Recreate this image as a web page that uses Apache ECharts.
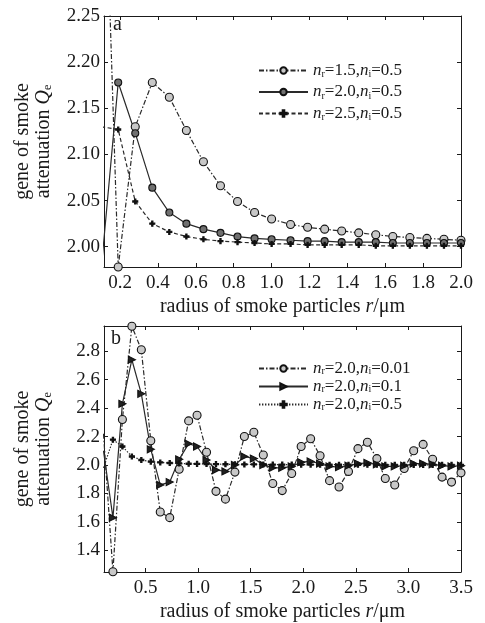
<!DOCTYPE html>
<html>
<head>
<meta charset="utf-8">
<script src="https://cdn.jsdelivr.net/npm/echarts@6/dist/echarts.min.js"></script>
<style>
html,body{margin:0;padding:0;background:#fff;}
#c{width:485px;height:623px;}
</style>
</head>
<body>
<div id="c"></div>
<script>
// ---- data: panel a ----
const radiusA = [0.10,0.19,0.28,0.37,0.46,0.55,0.64,0.73,0.82,0.91,1.00,1.10,1.19,1.28,1.37,1.46,1.55,1.64,1.73,1.82,1.91,2.00];
const qA15 = [2.55,1.978,2.13,2.178,2.162,2.126,2.092,2.066,2.049,2.037,2.030,2.024,2.021,2.019,2.017,2.015,2.013,2.011,2.010,2.009,2.008,2.007];
const qA20 = [1.975,2.178,2.123,2.064,2.037,2.025,2.019,2.015,2.011,2.009,2.008,2.007,2.006,2.006,2.005,2.005,2.005,2.004,2.004,2.004,2.004,2.004];
const qA25 = [2.13,2.127,2.049,2.025,2.016,2.011,2.008,2.006,2.005,2.004,2.003,2.003,2.002,2.002,2.002,2.002,2.001,2.001,2.001,2.001,2.001,2.001];
const ticksAX = [0.2,0.4,0.6,0.8,1.0,1.2,1.4,1.6,1.8,2.0];
const ticksAY = [2.00,2.05,2.10,2.15,2.20,2.25];

// ---- data: panel b ----
const radiusB = [0.10,0.19,0.28,0.37,0.46,0.55,0.64,0.73,0.82,0.91,0.99,1.08,1.17,1.26,1.35,1.44,1.53,1.62,1.71,1.80,1.89,1.98,2.07,2.16,2.25,2.34,2.43,2.52,2.61,2.70,2.78,2.87,2.96,3.05,3.14,3.23,3.32,3.41,3.50];
const qB001 = [2.22,1.25,2.32,2.975,2.81,2.17,1.67,1.63,1.97,2.31,2.35,2.09,1.815,1.76,1.95,2.20,2.23,2.07,1.87,1.82,1.94,2.13,2.185,2.065,1.89,1.845,1.955,2.115,2.16,2.045,1.905,1.86,1.975,2.10,2.145,2.04,1.915,1.88,1.945];
const qB01 = [2.10,1.63,2.43,2.74,2.50,2.11,1.86,1.88,2.04,2.15,2.13,2.035,1.965,1.955,2.00,2.06,2.045,2.00,1.98,1.98,1.99,2.02,2.025,2.01,1.99,1.985,1.995,2.01,2.015,2.005,1.99,1.99,1.995,2.01,2.01,2.005,1.995,1.99,1.995];
const qB05 = [1.98,2.178,2.13,2.06,2.035,2.024,2.018,2.014,2.011,2.009,2.008,2.007,2.006,2.005,2.005,2.004,2.004,2.004,2.003,2.003,2.003,2.003,2.003,2.002,2.002,2.002,2.002,2.002,2.002,2.002,2.001,2.001,2.001,2.001,2.001,2.001,2.001,2.001,2.001];
const ticksBX = [0.5,1.0,1.5,2.0,2.5,3.0,3.5];
const ticksBY = [1.4,1.6,1.8,2.0,2.2,2.4,2.6,2.8];

const namesA = ['a:nr=1.5,ni=0.5','a:nr=2.0,ni=0.5','a:nr=2.5,ni=0.5'];
const namesB = ['b:nr=2.0,ni=0.01','b:nr=2.0,ni=0.1','b:nr=2.0,ni=0.5'];

const FONT = 'Liberation Serif';
const INK = '#1a1a1a';
const PLUS = 'path://M3,0H5V3H8V5H5V8H3V5H0V3H3Z';

function pairs(xs, ys){ return xs.map((x,i)=>[x, ys[i]]); }

function legendFmt(name){
  const m = name.match(/nr=([\d.]+),ni=([\d.]+)/);
  return '{n|n}{s|r}{t|=' + m[1] + ',}{n|n}{s|i}{t|=' + m[2] + '}';
}
function legendRich(lh){
  return {
    n:{fontFamily:FONT,fontStyle:'italic',fontSize:17,color:INK,lineHeight:lh},
    s:{fontFamily:FONT,fontSize:10,color:INK,lineHeight:8,verticalAlign:'bottom'},
    t:{fontFamily:FONT,fontSize:17,color:INK,lineHeight:lh}
  };
}

function xAxes(gi, min, max, ticks, dec){
  const base = {
    type:'value', gridIndex:gi, min:min, max:max,
    axisLine:{show:true,lineStyle:{color:INK,width:1}},
    splitLine:{show:false},
    axisTick:{show:true,inside:true,length:4,customValues:ticks,lineStyle:{color:INK}}
  };
  return [
    Object.assign({}, base, {
      position:'bottom',
      axisLabel:{show:true,customValues:ticks,margin:7,fontFamily:FONT,fontSize:19,color:INK,
        formatter:v=>v.toFixed(dec)},
      name:'radius of smoke particles {i|r}/μm', nameLocation:'middle', nameGap:30,
      nameTextStyle:{fontFamily:FONT,fontSize:20,color:INK,
        rich:{i:{fontFamily:FONT,fontStyle:'italic',fontSize:20,color:INK}}}
    }),
    Object.assign({}, base, {position:'top', axisLabel:{show:false}})
  ];
}
function yAxes(gi, min, max, ticks, dec){
  const base = {
    type:'value', gridIndex:gi, min:min, max:max,
    axisLine:{show:true,lineStyle:{color:INK,width:1}},
    splitLine:{show:false},
    axisTick:{show:true,inside:true,length:4,customValues:ticks,lineStyle:{color:INK}}
  };
  return [
    Object.assign({}, base, {
      position:'left',
      axisLabel:{show:true,customValues:ticks,margin:4,fontFamily:FONT,fontSize:19,color:INK,
        formatter:v=>v.toFixed(dec)},
      name:'gene of smoke\nattenuation {q|Q}{e|e}', nameLocation:'middle', nameRotate:90, nameGap:50,
      nameTextStyle:{fontFamily:FONT,fontSize:20,color:INK,lineHeight:21,align:'center',
        rich:{q:{fontFamily:FONT,fontStyle:'italic',fontSize:20,color:INK,lineHeight:21},
              e:{fontFamily:FONT,fontSize:12,color:INK,lineHeight:10,verticalAlign:'bottom'}}}
    }),
    Object.assign({}, base, {position:'right', axisLabel:{show:false}})
  ];
}

function lineSeries(name, data, xi, yi, dash, symbol, size, fill, rotate){
  return {
    type:'line', name:name, data:data, xAxisIndex:xi, yAxisIndex:yi,
    symbol:symbol, symbolSize:size, symbolRotate:rotate||0, showAllSymbol:true,
    lineStyle:{color:'#2a2a2a', width:1.2, type:dash},
    itemStyle:{color:fill, borderColor:'#111', borderWidth:1.1},
    emphasis:{disabled:true}, animation:false, clip:true, z:3
  };
}

const DASHDOT = [5,2,1.5,2];
const DASHED = [4,2.5];
const DOTTED = [1.4,1.6];

const option = {
  backgroundColor:'#fff',
  animation:false,
  grid:[
    {left:104, top:16, width:357, height:251},
    {left:104, top:326, width:357, height:249}
  ],
  xAxis:[].concat(xAxes(0, 0.115, 2.0, ticksAX, 1), xAxes(1, 0.105, 3.5, ticksBX, 1)),
  yAxis:[].concat(yAxes(0, 1.978, 2.25, ticksAY, 2), yAxes(1, 1.248, 2.977, ticksBY, 1)),
  legend:[
    {data:namesA, orient:'vertical', left:253, top:57, itemWidth:49, itemHeight:8, itemGap:4,
     formatter:legendFmt, textStyle:{rich:legendRich(18)}, selectedMode:false},
    {data:namesB, orient:'vertical', left:253, top:355, itemWidth:49, itemHeight:8, itemGap:1,
     formatter:legendFmt, textStyle:{rich:legendRich(16.5)}, selectedMode:false}
  ],
  graphic:[
    {type:'text', left:113, top:15, style:{text:'a', font:'20px "Liberation Serif"', fill:INK}},
    {type:'text', left:111, top:329, style:{text:'b', font:'20px "Liberation Serif"', fill:INK}}
  ],
  series:[
    lineSeries(namesA[0], pairs(radiusA,qA15), 0, 0, DASHDOT, 'circle', 8, '#c8c8c8'),
    lineSeries(namesA[1], pairs(radiusA,qA20), 0, 0, 'solid', 'circle', 7, '#707070'),
    lineSeries(namesA[2], pairs(radiusA,qA25), 0, 0, DASHED, PLUS, 5, '#111'),
    lineSeries(namesB[0], pairs(radiusB,qB001), 2, 2, DASHDOT, 'circle', 8, '#c8c8c8'),
    lineSeries(namesB[1], pairs(radiusB,qB01), 2, 2, 'solid', 'triangle', 7, '#222', -90),
    lineSeries(namesB[2], pairs(radiusB,qB05), 2, 2, DOTTED, PLUS, 5, '#111')
  ]
};

const chart = echarts.init(document.getElementById('c'), null, {renderer:'canvas'});
chart.setOption(option);
</script>
</body>
</html>
